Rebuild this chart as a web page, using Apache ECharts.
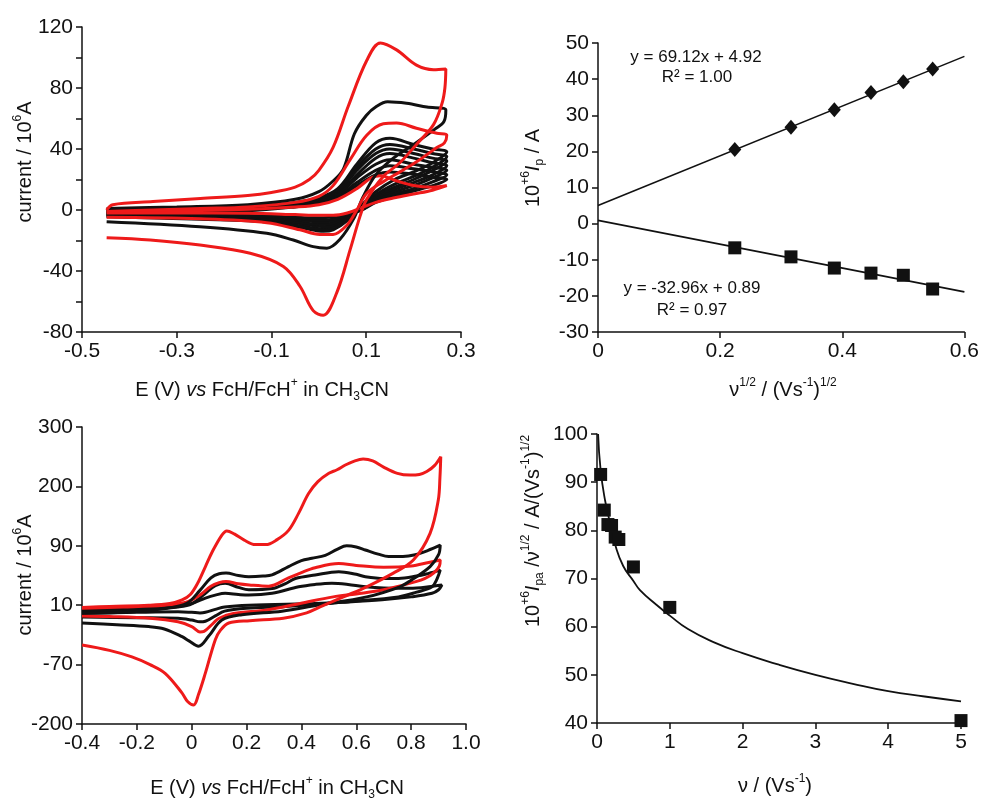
<!DOCTYPE html>
<html>
<head>
<meta charset="utf-8">
<script src="https://cdn.jsdelivr.net/npm/echarts@6/dist/echarts.min.js"></script>
<style>
  html, body { margin: 0; padding: 0; background: #fff; }
  #chart { width: 982px; height: 801px; }
</style>
</head>
<body>
<div id="chart"></div>
<script>
// Voltamogramas (arriba/abajo izquierda) y análisis de corriente de pico (derecha)

const FONT = '"Liberation Sans", Arial, sans-serif';
const RED = "#ee1a1a";
const INK = "#111";

// ---------- Panel superior izquierdo: CV a distintas velocidades ----------
// rejilla de potencial compartida para el haz de curvas negras
const tlFwdE = [-0.448, -0.3, -0.15, -0.05, 0, 0.04, 0.08, 0.12, 0.15, 0.2, 0.24, 0.27];
const tlRevE = [0.27, 0.24, 0.2, 0.16, 0.12, 0.09, 0.06, 0.03, 0.01, -0.03, -0.1, -0.25, -0.448];

const tlBundleFwd = [
  [0, 1, 2.5, 5, 8, 14, 30, 44, 47, 43, 40, 38],
  [-0.5, 0.5, 2, 4.5, 7, 13, 28, 40, 43, 40, 37, 35],
  [-1, 0, 1.5, 4, 6, 12, 26, 37, 40, 37, 34, 32],
  [-1.5, -0.5, 1, 3.5, 5.5, 11, 23, 34, 37, 34, 31, 29],
  [-2, -1, 0.5, 3, 5, 10, 21, 30, 33, 30, 28, 26],
  [-2, -1, 0, 2.5, 4.5, 9, 18, 26, 29, 27, 25, 23],
  [-2.5, -1.5, -0.5, 2, 4, 8, 16, 23, 25, 23.5, 21.5, 20],
];
const tlBundleRev = [
  [38, 31, 25, 20, 12, 3, -7, -13, -14, -12, -8, -6, -4.5],
  [35, 28, 22, 17, 10, 2, -6, -11.5, -12.5, -11, -7.5, -5.5, -4],
  [32, 26, 20, 15, 9, 1.5, -5, -10, -11, -9.5, -6.5, -5, -3.5],
  [29, 23, 18, 13.5, 8, 1, -4, -8.5, -9.5, -8.5, -6, -4.5, -3],
  [26, 21, 16, 12, 7, 0.5, -3.5, -7, -8, -7, -5, -4, -2.5],
  [23, 18.5, 14, 10.5, 6, 0, -3, -6, -6.5, -6, -4.5, -3.5, -2.5],
  [20, 16, 12.5, 9, 5, 0, -2.5, -4.5, -5, -5, -4, -3, -2],
];

const tlBlackBig = [[-0.448, 1], [-0.3, 2], [-0.15, 3.5], [-0.05, 7], [0, 12], [0.03, 19], [0.052, 27], [0.075, 50],
  [0.1, 62], [0.122, 68], [0.145, 71], [0.185, 70], [0.228, 67.5], [0.268, 65.6], [0.264, 58], [0.245, 53],
  [0.2, 43], [0.157, 34], [0.12, 23], [0.094, 9], [0.073, -6], [0.045, -19], [0.017, -25], [-0.012, -24],
  [-0.054, -19.7], [-0.11, -15.3], [-0.251, -11], [-0.448, -7.7]];

const tlRedSmall = [[-0.448, -1.5], [-0.3, -0.5], [-0.15, 0.5], [-0.05, 2], [0, 3.5], [0.04, 7], [0.08, 14], [0.11, 21],
  [0.13, 22.5], [0.16, 19.5], [0.2, 16], [0.24, 15], [0.27, 16], [0.24, 13], [0.2, 10.5], [0.16, 8], [0.12, 5],
  [0.09, 1.5], [0.06, -2], [0.03, -3.5], [0, -3.5], [-0.05, -3], [-0.15, -2.2], [-0.3, -2], [-0.448, -2]];

const tlRedMid = [[-0.448, -1], [-0.35, 0], [-0.25, 1], [-0.15, 2], [-0.05, 5], [0, 9], [0.03, 16], [0.066, 33],
  [0.101, 49], [0.136, 56.5], [0.164, 57], [0.206, 53.6], [0.249, 50.3], [0.27, 49.2], [0.265, 44], [0.249, 41],
  [0.213, 33], [0.171, 25], [0.136, 18.6], [0.101, 11], [0.08, 0], [0.059, -10], [0.03, -16], [0.002, -16],
  [-0.04, -13], [-0.11, -8.3], [-0.251, -5.8], [-0.448, -4.8]];

const tlRedBig = [[-0.448, 0], [-0.435, 3.5], [-0.35, 5.5], [-0.25, 7.5], [-0.15, 9.5], [-0.1, 11.5], [-0.05, 15],
  [-0.02, 20], [0, 26], [0.03, 41], [0.062, 68], [0.101, 98], [0.13, 109.5], [0.164, 105], [0.206, 95], [0.242, 92],
  [0.268, 92.5], [0.266, 80], [0.26, 70], [0.242, 56], [0.206, 43], [0.171, 31], [0.136, 22], [0.101, 7],
  [0.087, -4], [0.066, -26], [0.038, -54], [0.009, -69], [-0.012, -66], [-0.04, -50], [-0.075, -37],
  [-0.145, -28.4], [-0.251, -23], [-0.356, -19.7], [-0.448, -18.2]];

const tlXTicks = [-0.5, -0.3, -0.1, 0.1, 0.3];
const tlYTicks = [-80, -60, -40, -20, 0, 20, 40, 60, 80, 100, 120];
const tlYLabels = [-80, -40, 0, 40, 80, 120];

// ---------- Panel superior derecho: Ip vs v^1/2 ----------
const trX = [0.224, 0.316, 0.387, 0.447, 0.5, 0.548];
const trAnodic = [20.5, 26.7, 31.5, 36.3, 39.3, 42.8];
const trCathodic = [-6.7, -9.2, -12.3, -13.7, -14.3, -18.1];
const trFitAnodic = [[0, 5.0], [0.6, 46.3]];
const trFitCathodic = [[0, 0.9], [0.6, -18.9]];

// ---------- Panel inferior izquierdo: CV ampliado ----------
// eje interno lineal; las etiquetas originales no son equidistantes
const blTickVals = [-200, -100, 0, 100, 200, 300];
const blTickLabels = ["-200", "-70", "10", "90", "200", "300"];
const blXTicks = [-0.4, -0.2, 0, 0.2, 0.4, 0.6, 0.8, 1.0];

const blBlack3 = [[-0.4, -7], [-0.2, -5], [-0.05, -1], [0, 3], [0.05, 12], [0.086, 17], [0.122, 20], [0.17, 18],
  [0.208, 17], [0.293, 20], [0.39, 31], [0.45, 35], [0.511, 37], [0.57, 35], [0.633, 31], [0.754, 28.4],
  [0.82, 29], [0.864, 31], [0.912, 34], [0.9, 26], [0.876, 20], [0.8, 14], [0.694, 9], [0.55, 5], [0.45, 3],
  [0.208, 0], [0.12, -3], [0.086, -7], [0.05, -12], [0.03, -13], [0, -12], [-0.05, -11], [-0.2, -12], [-0.4, -14]];

const blBlack2 = [[-0.4, -10], [-0.2, -8], [-0.05, -3], [0, 2], [0.05, 20], [0.086, 33], [0.122, 37], [0.17, 30],
  [0.208, 26], [0.293, 28], [0.34, 36], [0.378, 45], [0.45, 51], [0.536, 56.5], [0.6, 52], [0.633, 48], [0.7, 45],
  [0.754, 45], [0.82, 49], [0.864, 53.6], [0.906, 59], [0.895, 45], [0.876, 31], [0.82, 22], [0.754, 14],
  [0.572, 6], [0.45, 1], [0.329, -2.5], [0.2, -5], [0.12, -10], [0.086, -18], [0.05, -27], [0.03, -28],
  [0, -25], [-0.05, -22], [-0.2, -21], [-0.4, -20]];

const blBlack1 = [[-0.4, -13.7], [-0.213, -11], [-0.09, -5], [-0.018, 3], [0.03, 25], [0.07, 46], [0.1, 53],
  [0.125, 54], [0.17, 50], [0.208, 48], [0.26, 49], [0.293, 51], [0.353, 65], [0.4, 75], [0.438, 79], [0.487, 84],
  [0.53, 94], [0.565, 100], [0.6, 98], [0.633, 93], [0.68, 86], [0.718, 82], [0.77, 82], [0.815, 85], [0.86, 92],
  [0.906, 101], [0.9, 85], [0.869, 65], [0.8, 42], [0.759, 31], [0.638, 14], [0.456, 0], [0.329, -10],
  [0.183, -16], [0.11, -25], [0.062, -52], [0.025, -69], [-0.01, -60], [-0.035, -53], [-0.1, -40],
  [-0.157, -36], [-0.273, -33], [-0.4, -30]];

const blRedSmall = [[-0.4, -5], [-0.25, -3], [-0.1, 0], [-0.02, 5], [0.03, 17], [0.07, 32], [0.1, 38], [0.125, 40],
  [0.17, 36], [0.21, 34], [0.28, 32], [0.353, 46], [0.4, 55], [0.45, 63], [0.536, 70], [0.6, 67], [0.7, 64],
  [0.8, 66], [0.864, 72], [0.906, 76], [0.903, 66], [0.87, 50], [0.82, 40], [0.7, 26], [0.6, 19], [0.516, 14],
  [0.395, 3], [0.273, -8], [0.152, -14], [0.1, -22], [0.079, -30], [0.045, -44], [0.03, -45], [0, -36],
  [-0.05, -28], [-0.152, -22], [-0.3, -19], [-0.4, -18]];

const blRedBig = [[-0.4, -4], [-0.3, -2], [-0.157, 0], [-0.08, 3], [-0.035, 9], [-0.005, 18], [0.025, 40],
  [0.05, 65], [0.075, 90], [0.11, 118], [0.128, 125], [0.155, 120], [0.19, 110], [0.232, 102], [0.27, 102],
  [0.31, 110], [0.353, 126], [0.39, 155], [0.426, 188], [0.46, 208], [0.5, 222], [0.53, 228], [0.56, 236],
  [0.595, 243], [0.625, 246], [0.66, 243], [0.698, 233], [0.75, 222], [0.796, 219], [0.83, 220], [0.857, 225],
  [0.885, 235], [0.908, 250], [0.905, 215], [0.899, 177], [0.869, 121], [0.808, 76], [0.735, 54], [0.638, 31],
  [0.553, 14], [0.468, -3], [0.419, -13], [0.334, -22], [0.212, -26], [0.135, -30], [0.105, -42], [0.086, -58],
  [0.05, -114], [0.025, -150], [0.007, -168], [-0.015, -162], [-0.035, -148], [-0.096, -115], [-0.152, -100],
  [-0.218, -87], [-0.3, -76], [-0.4, -67]];

// ---------- Panel inferior derecho: Ipa/v^1/2 vs v ----------
const brX = [0.05, 0.1, 0.15, 0.2, 0.25, 0.3, 0.5, 1, 5];
const brY = [91.6, 84.2, 81.2, 81.0, 78.6, 78.1, 72.4, 64.0, 40.5];
const brCurve = [[0.015, 100], [0.05, 92.5], [0.11, 86.3], [0.18, 81.5], [0.25, 77], [0.36, 72.6], [0.5, 69.5],
  [0.59, 67.6], [0.82, 64.5], [1.0, 62.3], [1.25, 59.5], [1.6, 56.8], [2.0, 54.5], [2.5, 52.1], [3.0, 50.0],
  [3.5, 48.2], [4.0, 46.6], [4.5, 45.5], [5.0, 44.5]];

function zipXY(xs, ys) {
  return xs.map((x, i) => [x, ys[i]]);
}

function fmtDec(v) {
  return Math.abs(v) < 1e-9 ? "0" : v.toFixed(1);
}

function makeAxis(gridIndex, min, max, tickVals, labelVals, formatter) {
  return {
    type: "value",
    gridIndex: gridIndex,
    min: min,
    max: max,
    splitLine: { show: false },
    axisLine: { show: true, onZero: false, lineStyle: { color: INK, width: 1.5 } },
    axisTick: { show: true, length: 6, customValues: tickVals, lineStyle: { color: INK, width: 1.5 } },
    axisLabel: {
      show: true, customValues: labelVals || tickVals, formatter: formatter,
      color: INK, fontSize: 21, fontFamily: FONT, margin: 9,
    },
  };
}

function cvLine(data, color, idx, z) {
  return {
    type: "line", xAxisIndex: idx, yAxisIndex: idx, data: data,
    symbol: "none", showSymbol: false, smooth: 0.35, z: z,
    lineStyle: { color: color, width: 3 }, silent: true,
  };
}

// texto con superíndices/subíndices
const RICH = {
  n: { fontSize: 20, fontFamily: FONT, color: INK, lineHeight: 26, verticalAlign: "middle" },
  i: { fontSize: 20, fontFamily: FONT, color: INK, fontStyle: "italic", lineHeight: 26, verticalAlign: "middle" },
  sup: { fontSize: 12, fontFamily: FONT, color: INK, lineHeight: 14, verticalAlign: "top" },
  sub: { fontSize: 12, fontFamily: FONT, color: INK, lineHeight: 12, verticalAlign: "bottom" },
};

function title(text, x, y, vertical) {
  return {
    type: "text", x: x, y: y, rotation: vertical ? Math.PI / 2 : 0, silent: true,
    style: { text: text, rich: RICH, align: "center", verticalAlign: "middle", fill: INK, font: "20px " + FONT },
  };
}

function note(text, x, y) {
  return {
    type: "text", x: x, y: y, silent: true,
    style: { text: text, align: "center", verticalAlign: "middle", fill: INK, font: "17px " + FONT },
  };
}

const markStyle = { color: INK, opacity: 1, borderWidth: 0 };

const chart = echarts.init(document.getElementById("chart"), null, { renderer: "canvas" });

const series = [];
tlBundleFwd.forEach((fwd, i) => {
  series.push(cvLine(zipXY(tlFwdE, fwd).concat(zipXY(tlRevE, tlBundleRev[i])), INK, 0, 2));
});
series.push(cvLine(tlRedSmall, RED, 0, 3));
series.push(cvLine(tlBlackBig, INK, 0, 3));
series.push(cvLine(tlRedMid, RED, 0, 4));
series.push(cvLine(tlRedBig, RED, 0, 4));

series.push({ type: "line", xAxisIndex: 1, yAxisIndex: 1, data: trFitAnodic, symbol: "none",
  lineStyle: { color: INK, width: 1.6 }, z: 2 });
series.push({ type: "line", xAxisIndex: 1, yAxisIndex: 1, data: trFitCathodic, symbol: "none",
  lineStyle: { color: INK, width: 1.6 }, z: 2 });
series.push({ type: "scatter", xAxisIndex: 1, yAxisIndex: 1, data: zipXY(trX, trAnodic),
  symbol: "diamond", symbolSize: [13, 15], itemStyle: markStyle, z: 3 });
series.push({ type: "scatter", xAxisIndex: 1, yAxisIndex: 1, data: zipXY(trX, trCathodic),
  symbol: "rect", symbolSize: 13, itemStyle: markStyle, z: 3 });

series.push(cvLine(blBlack3, INK, 2, 2));
series.push(cvLine(blBlack2, INK, 2, 2));
series.push(cvLine(blRedSmall, RED, 2, 3));
series.push(cvLine(blBlack1, INK, 2, 3));
series.push(cvLine(blRedBig, RED, 2, 4));

series.push({ type: "line", xAxisIndex: 3, yAxisIndex: 3, data: brCurve, symbol: "none",
  smooth: 0.5, lineStyle: { color: INK, width: 1.8 }, z: 2 });
series.push({ type: "scatter", xAxisIndex: 3, yAxisIndex: 3, data: zipXY(brX, brY),
  symbol: "rect", symbolSize: 13, itemStyle: markStyle, z: 3 });

const option = {
  animation: false,
  backgroundColor: "#fff",
  grid: [
    { left: 82, top: 27, width: 379, height: 305 },
    { left: 598, top: 43, width: 368, height: 289 },
    { left: 82, top: 427, width: 384, height: 297 },
    { left: 597, top: 434, width: 364, height: 289 },
  ],
  xAxis: [
    makeAxis(0, -0.5, 0.3, tlXTicks, null, fmtDec),
    makeAxis(1, 0, 0.6, [0, 0.2, 0.4, 0.6], null, fmtDec),
    makeAxis(2, -0.4, 1.0, blXTicks, null, fmtDec),
    makeAxis(3, 0, 5, [0, 1, 2, 3, 4, 5], null, (v) => String(Math.round(v))),
  ],
  yAxis: [
    makeAxis(0, -80, 120, tlYTicks, tlYLabels, (v) => String(Math.round(v))),
    makeAxis(1, -30, 50, [-30, -20, -10, 0, 10, 20, 30, 40, 50], null, (v) => String(Math.round(v))),
    makeAxis(2, -200, 300, blTickVals, null, (v) => blTickLabels[blTickVals.indexOf(Math.round(v))]),
    makeAxis(3, 40, 100, [40, 50, 60, 70, 80, 90, 100], null, (v) => String(Math.round(v))),
  ],
  series: series,
  graphic: [
    title("{n|current / 10}{sup|6}{n|A}", 25, 162, true),
    title("{n|E (V) }{i|vs}{n| FcH/FcH}{sup|+}{n| in CH}{sub|3}{n|CN}", 262, 390, false),
    title("{n|10}{sup|+6}{i|I}{sub|p}{n| / A}", 533, 168, true),
    title("{n|ν}{sup|1/2}{n| / (Vs}{sup|-1}{n|)}{sup|1/2}", 783, 390, false),
    title("{n|current / 10}{sup|6}{n|A}", 25, 575, true),
    title("{n|E (V) }{i|vs}{n| FcH/FcH}{sup|+}{n| in CH}{sub|3}{n|CN}", 277, 788, false),
    title("{n|10}{sup|+6}{i|I}{sub|pa}{n| /ν}{sup|1/2}{n| / A/(Vs}{sup|-1}{n|)}{sup|1/2}", 533, 531, true),
    title("{n|ν / (Vs}{sup|-1}{n|)}", 775, 786, false),
    note("y = 69.12x + 4.92", 696, 57),
    note("R² = 1.00", 697, 77),
    note("y = -32.96x + 0.89", 692, 288),
    note("R² = 0.97", 692, 310),
  ],
};

chart.setOption(option);
window.addEventListener("resize", () => chart.resize());
</script>
</body>
</html>
